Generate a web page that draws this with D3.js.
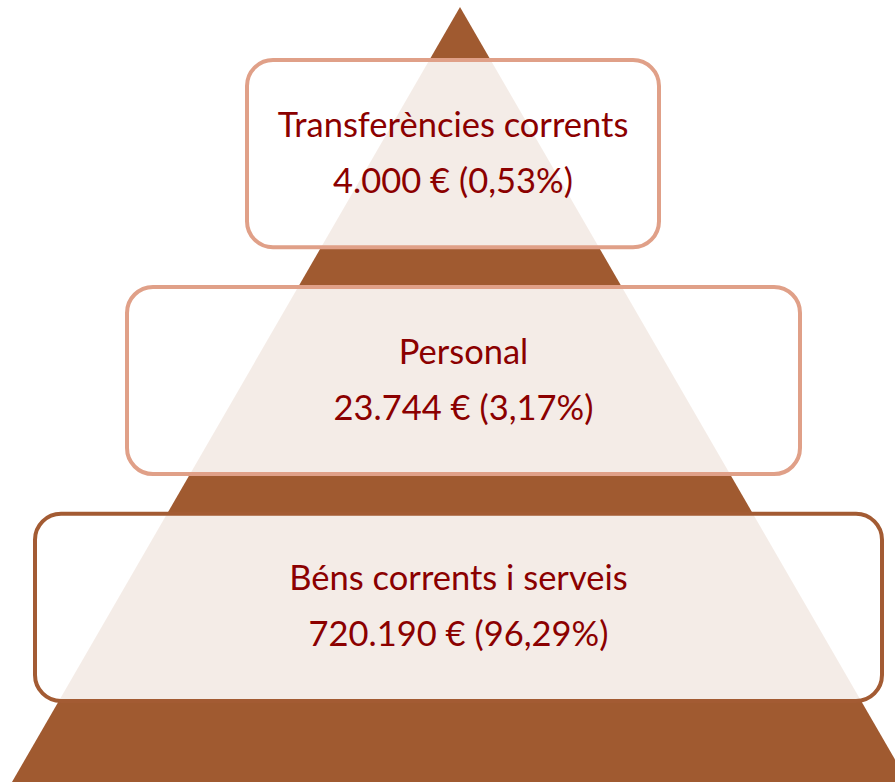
<!DOCTYPE html>
<html>
<head>
<meta charset="utf-8">
<script src="https://cdn.jsdelivr.net/npm/d3@7"></script>
<style>
  html, body { margin: 0; padding: 0; background: #ffffff; }
  svg { display: block; }
</style>
</head>
<body>
<svg id="chart" width="895" height="782"></svg>
<script>
// ---- data ----
const categories = ["Transferències corrents", "Personal", "Béns corrents i serveis"];
const amounts = [4000, 23744, 720190];
const percents = [0.53, 3.17, 96.29];

// ---- styling / layout ----
const boxWidths = [412, 673, 847];
const boxCenters = [453, 463.5, 458.5];
const boxStrokes = ["#E0A088", "#E0A088", "#A35B33"];
const brown = "#A05A30";
const textColor = "#8B0000";

const locale = d3.formatLocale({ decimal: ",", thousands: ".", grouping: [3], currency: ["", " €"] });
const fmtAmount = locale.format(",.0f");
const fmtPct = locale.format(".2f");

const svg = d3.select("#chart");

// pyramid background
const py = d3.scaleLinear().domain([0, 1]).range([7, 782]);
const halfW = d3.scaleLinear().domain([0, 1]).range([0, 448]);
const cx = 460;
svg.append("path")
  .attr("d", d3.line()([[cx, py(0)], [cx + halfW(1), py(1)], [cx - halfW(1), py(1)]]) + "Z")
  .attr("fill", brown);

// rows
const y = d3.scaleBand().domain(categories).range([60, 701]).paddingInner(0.175).paddingOuter(0);

const g = svg.selectAll("g.row").data(categories).join("g").attr("class", "row");

g.append("rect")
  .attr("x", (d, i) => boxCenters[i] - boxWidths[i] / 2)
  .attr("y", d => y(d))
  .attr("width", (d, i) => boxWidths[i])
  .attr("height", y.bandwidth())
  .attr("rx", 26).attr("ry", 26)
  .attr("fill", "#ffffff").attr("fill-opacity", 0.885)
  .attr("stroke", (d, i) => boxStrokes[i])
  .attr("stroke-width", 4);

g.append("text")
  .attr("x", (d, i) => boxCenters[i])
  .attr("y", d => y(d) + y.bandwidth() / 2 - 17)
  .attr("text-anchor", "middle")
  .attr("font-family", "Lato, 'Open Sans', sans-serif")
  .attr("font-size", 34.5)
  .attr("fill", textColor)
  .text(d => d);

g.append("text")
  .attr("x", (d, i) => boxCenters[i])
  .attr("y", d => y(d) + y.bandwidth() / 2 + 39)
  .attr("text-anchor", "middle")
  .attr("font-family", "Lato, 'Open Sans', sans-serif")
  .attr("font-size", 34.5)
  .attr("fill", textColor)
  .text((d, i) => fmtAmount(amounts[i]) + " € (" + fmtPct(percents[i]) + "%)");
</script>
</body>
</html>
